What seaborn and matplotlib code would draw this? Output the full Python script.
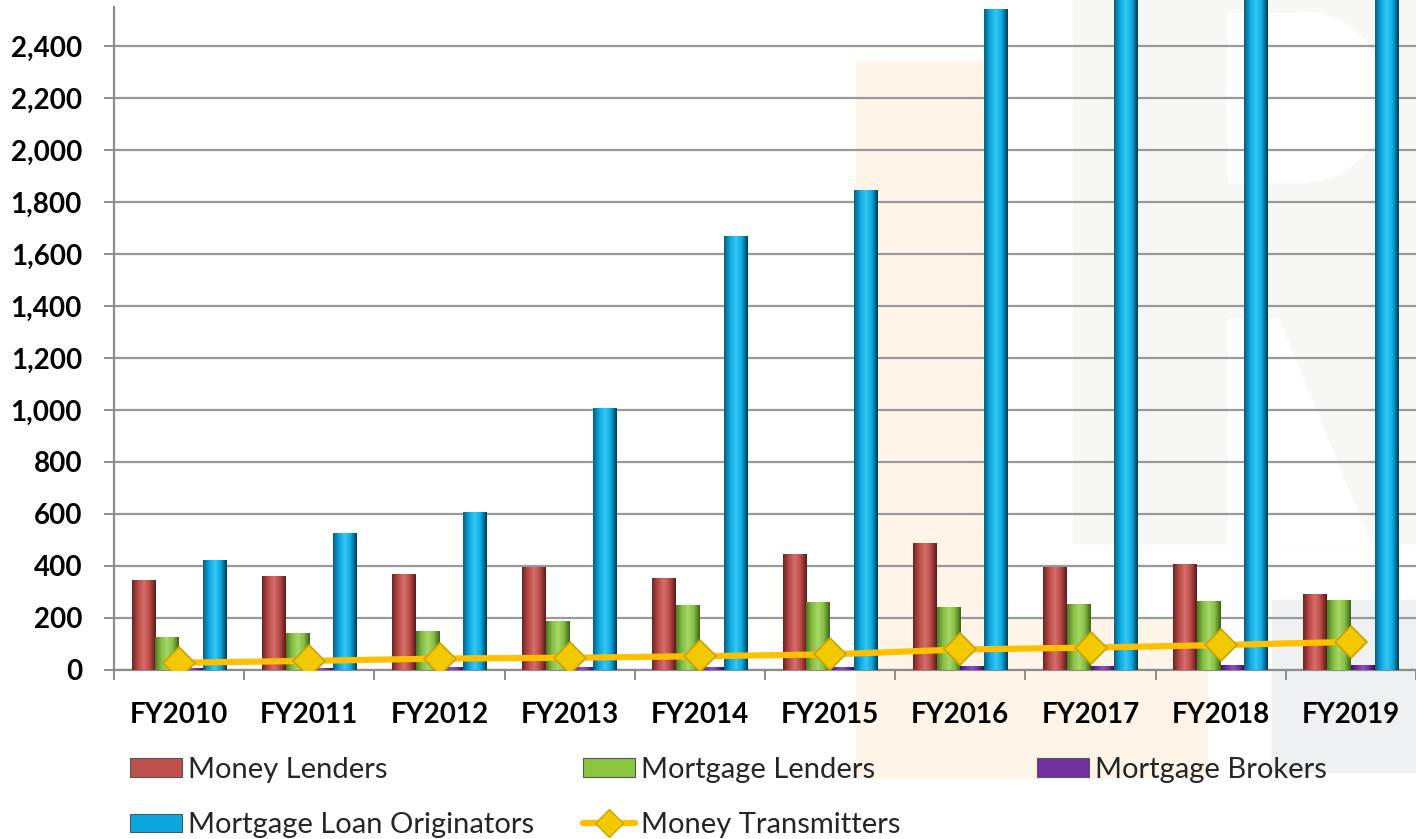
import numpy as np
import pandas as pd
import matplotlib
matplotlib.use("Agg")
import matplotlib.pyplot as plt
from matplotlib.colors import LinearSegmentedColormap
from matplotlib.patches import Rectangle, Patch, Polygon, Ellipse
from matplotlib.lines import Line2D
from matplotlib.ticker import FuncFormatter, FixedLocator
import seaborn as sns

# Datos
years = ["FY2010", "FY2011", "FY2012", "FY2013", "FY2014",
         "FY2015", "FY2016", "FY2017", "FY2018", "FY2019"]
money_lenders = [346, 362, 368, 398, 354, 445, 490, 397, 406, 292]
mortgage_lenders = [128, 141, 151, 188, 249, 262, 244, 254, 264, 269]
mortgage_brokers = [8, 9, 10, 11, 12, 13, 15, 16, 18, 20]
loan_originators = [423, 528, 608, 1009, 1669, 1846, 2542, 2760, 2950, 3120]
money_transmitters = [28, 35, 44, 47, 53, 60, 79, 86, 96, 108]

bar_series = ["Money Lenders", "Mortgage Lenders", "Mortgage Brokers",
              "Mortgage Loan Originators"]
line_series = "Money Transmitters"

bar_colors = ["#C0504D", "#8CC63F", "#7030A0", "#0BA8DF"]
# degradados para simular el efecto 3D de las barras
gradients = [
    ["#6E2422", "#B84A47", "#D66F6B", "#B84A47", "#5A1C1A"],
    ["#4E7A22", "#86BE45", "#A6D866", "#86BE45", "#3E6418"],
    ["#3E1A5C", "#7030A0", "#8E4FC0", "#7030A0", "#2F1248"],
    ["#0A5F80", "#0BA8DF", "#35C8F5", "#0BA8DF", "#053C52"],
]

df = pd.DataFrame({
    "year": years * 4,
    "series": np.repeat(bar_series, len(years)),
    "value": money_lenders + mortgage_lenders + mortgage_brokers + loan_originators,
})

sns.set_theme(style="white")
plt.rcParams["font.family"] = ["Lato", "DejaVu Sans"]

fig = plt.figure(figsize=(14.16, 8.39), dpi=100)
W, H = 1416, 839

# marcas de agua del fondo (muy tenues)
def px(x, y):
    return (x / W, 1 - y / H)

def px_rect(x0, y0, x1, y1, color, z=-10):
    fig.patches.append(Rectangle(px(x0, y1), (x1 - x0) / W, (y1 - y0) / H,
                                 transform=fig.transFigure, color=color, zorder=z))

def px_poly(pts, color, z=-9):
    fig.patches.append(Polygon([px(x, y) for x, y in pts], closed=True,
                               transform=fig.transFigure, color=color, zorder=z))

grey_wm = "#F7F7F5"
orange_wm = "#FEF5E8"
px_rect(1073, 0, 1416, 543, grey_wm)
fig.patches.append(Ellipse(px(1306, 97), 2 * 79 / W, 169 / H,
                           transform=fig.transFigure, color="white", zorder=-9))
px_rect(1228, 13, 1306, 182, "white", z=-9)
px_rect(1228, 318, 1280, 543, "white", z=-9)
px_poly([(1280, 323), (1280, 543), (1370, 543)], "white")
px_rect(1272, 600, 1416, 772, "#EFF0F2")
px_rect(856, 61, 1000, 618, orange_wm)
px_rect(856, 618, 1207, 778, orange_wm)

ax = fig.add_axes([114 / W, 1 - 670 / H, (W - 114) / W, (670 - 7) / H])
ax.set_facecolor("none")

sns.barplot(data=df, x="year", y="value", hue="series", order=years,
            hue_order=bar_series, palette=bar_colors, width=0.73,
            saturation=1, ax=ax, legend=False, zorder=3,
            edgecolor="none", linewidth=0)

# degradado horizontal sobre cada barra
for i, cols in enumerate(gradients):
    cmap = LinearSegmentedColormap.from_list(f"g{i}", cols)
    grad = np.linspace(0, 1, 64).reshape(1, -1)
    for p in ax.patches[i * len(years):(i + 1) * len(years)]:
        x, w, h = p.get_x(), p.get_width(), p.get_height()
        im = ax.imshow(grad, extent=[x, x + w, 0, h], aspect="auto",
                       cmap=cmap, zorder=3.5, interpolation="bilinear")
        im.set_clip_path(p)

sns.pointplot(x=years, y=money_transmitters, order=years, color="#FFC000",
              markers="D", linestyles="-", ax=ax, zorder=5,
              markersize=16, linewidth=4.5,
              markeredgecolor="#C9A400", markeredgewidth=1.2,
              markerfacecolor="#F2C800", errorbar=None)

ax.set_xlim(-0.5, 9.5)
ax.set_ylim(0, 2550)

ax.yaxis.set_major_locator(FixedLocator(np.arange(0, 2401, 200)))
ax.yaxis.set_major_formatter(FuncFormatter(lambda v, _: f"{int(v):,}"))
ax.grid(axis="y", color="#999999", linewidth=1.6, zorder=0)
ax.set_axisbelow(True)

ax.set_xlabel("")
ax.set_ylabel("")

for side in ["top", "right"]:
    ax.spines[side].set_visible(False)
for side in ["left", "bottom"]:
    ax.spines[side].set_color("#8C8C8C")
    ax.spines[side].set_linewidth(1.6)

ax.tick_params(axis="y", left=True, length=7, width=1.4, color="#8C8C8C",
               pad=16, labelsize=20, labelcolor="black")
ax.set_xticks(np.arange(-0.5, 9.6, 1), minor=True)
ax.tick_params(axis="x", which="minor", bottom=True, length=7, width=1.4,
               color="#8C8C8C")
ax.tick_params(axis="x", which="major", bottom=False, length=0, pad=23,
               labelsize=20, labelcolor="black")
for lab in ax.get_xticklabels() + ax.get_yticklabels():
    lab.set_fontweight("bold")

# leyenda en tres columnas colocadas a mano
def mk_patch(c):
    return Patch(facecolor=c, edgecolor="#555555", linewidth=0.8)

mt_handle = Line2D([], [], color="#FFC000", linewidth=4.5, marker="D",
                   markersize=14, markerfacecolor="#F2C800",
                   markeredgecolor="#C9A400")

legend_cols = [
    ([mk_patch(bar_colors[0]), mk_patch(bar_colors[3])],
     [bar_series[0], bar_series[3]], 130),
    ([mk_patch(bar_colors[1]), mt_handle],
     [bar_series[1], line_series], 583),
    ([mk_patch(bar_colors[2])], [bar_series[2]], 1037),
]
for handles, labels, xpx in legend_cols:
    leg = fig.legend(handles, labels, loc="upper left",
                     bbox_to_anchor=(xpx / W, 1 - 757 / H),
                     frameon=False, fontsize=21, handlelength=1.78,
                     handleheight=0.6, handletextpad=0.2, labelspacing=1.0,
                     borderpad=0, borderaxespad=0)

fig.savefig("out.png", dpi=100)
